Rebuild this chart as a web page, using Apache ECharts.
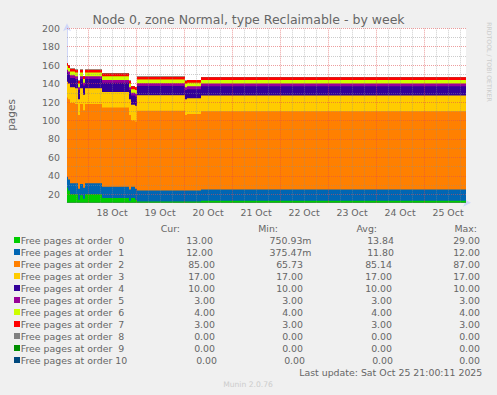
<!DOCTYPE html>
<html><head><meta charset="utf-8">
<script src="https://cdn.jsdelivr.net/npm/echarts@6/dist/echarts.min.js"></script>
<style>html,body{margin:0;padding:0;background:#f0f0f0;}#c{width:497px;height:395px;}</style>
</head><body><div id="c"></div>
<script>
// ---- data ----
const chartTitle = 'Node 0, zone Normal, type Reclaimable - by week';
const yAxisName = 'pages';
// sample times: hours after Sat Oct 17 13:30 (step values hold until next time)
const hours  = [0, 0.5, 1.5, 4, 5.5, 6.5, 8, 9, 17.5, 31, 32, 34, 35, 59, 60, 67, 199.5];
const order0 = [27, 24, 20, 20, 14, 19, 15, 20, 16, 13, 16, 14, 12, 12, 12, 13, 13];
const order1 = [12, 12, 12, 12, 12, 12, 12, 12, 12, 12, 12, 12, 12, 12, 12, 12, 12];
const order2 = [86, 87, 87, 86, 80, 87, 84, 86, 86, 81, 72, 73, 86.5, 82, 83, 85, 85];
const order3 = [17, 17, 17, 17, 17, 17, 17, 17, 17, 17, 17, 17, 17, 17, 17, 17, 17];
const order4 = [10, 10, 10, 10, 10, 10, 10, 10, 10, 10, 10, 10, 10, 10, 10, 10, 10];
const order5 = [3, 3, 3, 3, 3, 3, 3, 3, 3, 3, 3, 3, 3, 3, 3, 3, 3];
const order6 = [4, 4, 4, 4, 4, 4, 4, 4, 4, 4, 4, 4, 4, 4, 4, 4, 4];
const order7 = [3, 3, 3, 3, 3, 3, 3, 3, 3, 3, 3, 3, 3, 3, 3, 3, 3];
const order8 = [0, 0, 0, 0, 0, 0, 0, 0, 0, 0, 0, 0, 0, 0, 0, 0, 0];
const order9 = [0, 0, 0, 0, 0, 0, 0, 0, 0, 0, 0, 0, 0, 0, 0, 0, 0];
const order10 = [0, 0, 0, 0, 0, 0, 0, 0, 0, 0, 0, 0, 0, 0, 0, 0, 0];
const seriesNames = ['Free pages at order  0','Free pages at order  1','Free pages at order  2','Free pages at order  3','Free pages at order  4','Free pages at order  5','Free pages at order  6','Free pages at order  7','Free pages at order  8','Free pages at order  9','Free pages at order 10'];
const curVals = ['13.00','12.00','85.00','17.00','10.00','3.00','4.00','3.00','0.00','0.00','0.00'];
const minVals = ['750.93m','375.47m','65.73','17.00','10.00','3.00','4.00','3.00','0.00','0.00','0.00'];
const avgVals = ['13.84','11.80','85.14','17.00','10.00','3.00','4.00','3.00','0.00','0.00','0.00'];
const maxVals = ['29.00','12.00','87.00','17.00','10.00','3.00','4.00','3.00','0.00','0.00','0.00'];
const colHeaders = ['Cur:', 'Min:', 'Avg:', 'Max:'];
const xTickLabels = ['18 Oct','19 Oct','20 Oct','21 Oct','22 Oct','23 Oct','24 Oct','25 Oct'];
const yTickLabels = [20, 40, 60, 80, 100, 120, 140, 160, 180, 200];
const lastUpdate = 'Last update: Sat Oct 25 21:00:11 2025';
const versionText = 'Munin 2.0.76';
const watermark = 'RRDTOOL / TOBI OETIKER';

// ---- styling / layout ----
const FONT = 'DejaVu Sans';
const TXT = '#666666';
const colors = ['#00CC00','#0066B3','#FF8000','#FFCC00','#330099','#990099','#CCFF00','#FF0000','#808080','#008F00','#00487D'];
const MAJ = 'rgba(222,79,79,0.55)';
const MIN = 'rgba(143,143,143,0.45)';
const allValues = [order0,order1,order2,order3,order4,order5,order6,order7,order8,order9,order10];
// noon of each labelled day, in hours after the start
const xTickHours = xTickLabels.map((_, i) => 22.5 + 24 * i);

const gridMarks = [];
for (let v = 20; v <= 200; v += 10) gridMarks.push({yAxis: v, lineStyle: {color: v % 20 === 0 ? MAJ : MIN}});
for (let h = 4.5; h < 199.5; h += 6) gridMarks.push({xAxis: h, lineStyle: {color: ((h - 10.5) % 24 === 0) ? MAJ : MIN}});

// stacked totals (the running sum of the layers), drawn top layer first, each filled to the bottom
const running = hours.map(() => 0);
const stacked = allValues.map(vals => vals.map((v, j) => (running[j] += v)));
const series = [];
for (let i = allValues.length - 1; i >= 0; i--) {
  series.push({
    type: 'line', name: seriesNames[i], step: 'end',
    symbol: 'none', showSymbol: false, silent: true,
    lineStyle: {width: 0}, areaStyle: {color: colors[i], opacity: 1, origin: 'start'},
    data: hours.map((h, j) => [h, stacked[i][j]]),
    markLine: i === 0 ? {
      silent: true, symbol: ['none','none'], label: {show: false},
      lineStyle: {width: 1, type: [1, 1]}, data: gridMarks, animation: false
    } : undefined
  });
}

const g = [];
g.push({type:'text', x:248.5, y:19, style:{text:chartTitle, fill:TXT, fontSize:12.5, fontFamily:FONT, align:'center', verticalAlign:'middle'}});
g.push({type:'text', x:11, y:115, rotation:Math.PI/2, style:{text:yAxisName, fill:TXT, fontSize:10.5, fontFamily:FONT, align:'center', verticalAlign:'middle'}});
g.push({type:'text', x:489, y:62, rotation:-Math.PI/2, style:{text:watermark, fill:'#cccccc', fontSize:6.2, fontFamily:FONT, align:'center', verticalAlign:'middle'}});
const headX = [180, 278, 377, 477];
colHeaders.forEach((h, k) => g.push({type:'text', x:headX[k], y:228, style:{text:h, fill:TXT, fontSize:9.4, fontFamily:FONT, align:'right', verticalAlign:'middle'}}));
seriesNames.forEach((n, i) => {
  const y = 240 + 12 * i;
  const wide = minVals[i].endsWith('m');
  const last = i === seriesNames.length - 1;
  const cx = [wide ? 213 : (last ? 217 : 215), wide ? 311.5 : (last ? 305 : 303), wide ? 394 : (last ? 393 : 392), 480];
  g.push({type:'rect', shape:{x:14, y:y-3, width:6, height:6}, style:{fill:colors[i]}});
  g.push({type:'text', x:20.7, y:y, style:{text:n, fill:TXT, fontSize:9.4, fontFamily:FONT, align:'left', verticalAlign:'middle'}});
  [curVals, minVals, avgVals, maxVals].forEach((arr, k) => {
    g.push({type:'text', x:cx[k], y:y, style:{text:arr[i], fill:TXT, fontSize:9.4, fontFamily:FONT, align:'right', verticalAlign:'middle'}});
  });
});
g.push({type:'text', x:482.3, y:372, style:{text:lastUpdate, fill:TXT, fontSize:9.4, fontFamily:FONT, align:'right', verticalAlign:'middle'}});
g.push({type:'text', x:248, y:384, style:{text:versionText, fill:'#cccccc', fontSize:7.6, fontFamily:FONT, align:'center', verticalAlign:'middle'}});

const chart = echarts.init(document.getElementById('c'), null, {renderer:'svg', width:497, height:395});
chart.setOption({
  animation: false,
  backgroundColor: '#f0f0f0',
  textStyle: {fontFamily: FONT},
  grid: {left: 67, top: 28.3, width: 399, height: 174.4, show: true, backgroundColor: '#ffffff', borderWidth: 0, containLabel: false},
  xAxis: {
    type: 'value', min: 0, max: 199.5,
    splitLine: {show: false},
    axisLine: {show: true, onZero: false, lineStyle: {color: '#CFD6F8', width: 1}, symbol: ['none','arrow'], symbolSize: [6, 8], symbolOffset: [0, 5]},
    axisTick: {show: false},
    axisLabel: {customValues: xTickHours, color: TXT, fontSize: 9.4, fontFamily: FONT, margin: 5,
      formatter: v => { const k = xTickHours.findIndex(t => Math.abs(t - v) < 0.01); return k >= 0 ? xTickLabels[k] : ''; }}
  },
  yAxis: {
    type: 'value', min: 10.8, max: 200,
    splitLine: {show: false},
    axisLine: {show: true, onZero: false, lineStyle: {color: '#CFD6F8', width: 1}, symbol: ['none','arrow'], symbolSize: [6, 8], symbolOffset: [0, 5]},
    axisTick: {show: false},
    axisLabel: {customValues: yTickLabels, color: TXT, fontSize: 9.4, fontFamily: FONT, margin: 7,
      formatter: v => { const k = yTickLabels.findIndex(t => Math.abs(t - v) < 0.01); return k >= 0 ? String(yTickLabels[k]) : ''; }}
  },
  series: series,
  graphic: g
});
</script></body></html>
